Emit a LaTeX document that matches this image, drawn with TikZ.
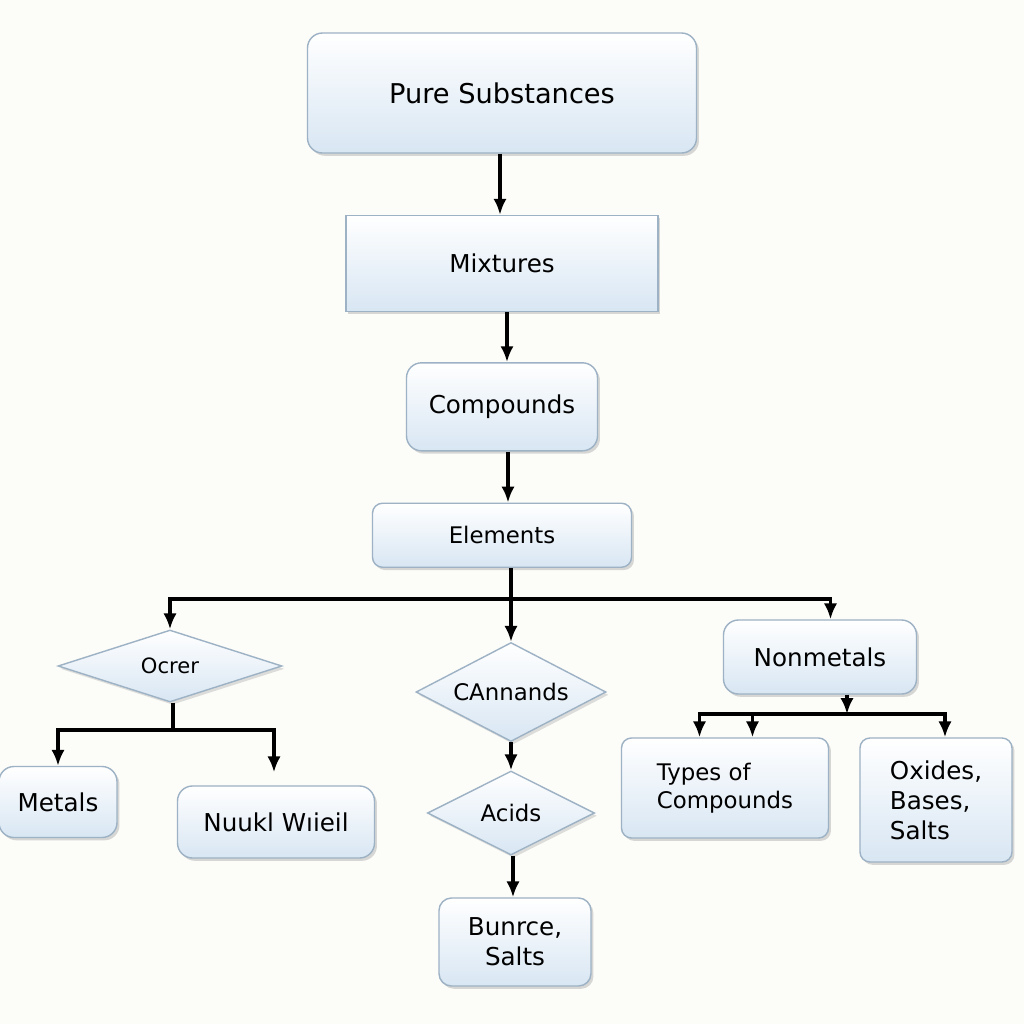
\documentclass[tikz,border=0pt]{standalone}
\usepackage{fontspec}
\setmainfont{DejaVu Sans}
\usepackage{xcolor}
\usepackage{tikz}
\usetikzlibrary{arrows.meta,positioning,shapes.geometric,shadows}

\definecolor{boxline}{HTML}{9DB2C4}
\definecolor{boxlow}{HTML}{D8E6F3}
\definecolor{paper}{HTML}{FCFCF9}

\begin{document}
\begin{tikzpicture}[
        x=0.2mm, y=-0.2mm,
        box/.style={draw=boxline, line width=0.8pt, rectangle, rounded corners=3mm, align=center, top color=white, bottom color=boxlow, inner sep=2pt, font=\fontsize{14pt}{17pt}\selectfont, drop shadow={opacity=0.3, shadow xshift=1.4pt, shadow yshift=-1.6pt}},
        plainbox/.style={box, rounded corners=0pt},
        choice/.style={draw=boxline, line width=0.8pt, diamond, aspect=2.4, inner sep=0pt, align=center, top color=white, bottom color=boxlow, font=\fontsize{13pt}{16pt}\selectfont, drop shadow={opacity=0.25, shadow xshift=1.4pt, shadow yshift=-1.6pt}},
        arrow/.style={line width=2.1pt, -{Latex[length=9pt,width=7.5pt]}},
        link/.style={line width=2.1pt}]

        \useasboundingbox[fill=paper] (0,0) rectangle (1024,1024);

        % Main column
        \node[box, minimum width=77.8mm, minimum height=24mm, font=\fontsize{15.5pt}{18pt}\selectfont] (pure) at (502,93) {Pure Substances};
        \node[plainbox, below=12.2mm of pure, minimum width=62.4mm, minimum height=19.2mm] (mix) {Mixtures};
        \node[box, below=10mm of mix, minimum width=38.2mm, minimum height=17.6mm] (comp) {Compounds};
        \node[box, below=10.2mm of comp, minimum width=51.8mm, minimum height=12.8mm, rounded corners=2mm, font=\fontsize{13pt}{16pt}\selectfont] (elem) {Elements};

        % Left branch
        \node[choice, minimum width=44.8mm, minimum height=14.4mm, font=\fontsize{12pt}{14pt}\selectfont] (ocrer) at (170,666) {Ocrer};
        \node[box, minimum width=23.6mm, minimum height=14.2mm] (metals) at (58,802) {Metals};
        \node[box, minimum width=39.4mm, minimum height=14.4mm] (nuukl) at (276,822) {Nuukl Wıieil};

        % Middle branch
        \node[choice, minimum width=38mm, minimum height=19.8mm] (cann) at (511,692) {CAnnands};
        \node[choice, minimum width=33.4mm, minimum height=16.8mm] (acids) at (511,813) {Acids};
        \node[box, minimum width=30.4mm, minimum height=17.6mm, rounded corners=2.5mm] (bunrce) at (515,942) {Bunrce,\\Salts};

        % Right branch
        \node[box, minimum width=38.6mm, minimum height=14.8mm] (nonm) at (820,657) {Nonmetals};
        \node[box, minimum width=41.4mm, minimum height=20mm, rounded corners=2mm, align=left, font=\fontsize{13pt}{16pt}\selectfont] (types) at (725,788) {Types of\\Compounds};
        \node[box, minimum width=30.4mm, minimum height=24.8mm, rounded corners=2mm, align=left] (oxides) at (936,800) {Oxides,\\Bases,\\Salts};

        \coordinate (hub) at (511,599);
        \coordinate (ohub) at (173,730);
        \coordinate (nhub) at (847,714);

        % Connections
        \draw[arrow] ([xshift=-0.4mm]pure.south) -- ([xshift=-0.4mm]mix.north);
        \draw[arrow] ([xshift=1mm]mix.south) -- ([xshift=1mm]comp.north);
        \draw[arrow] ([xshift=1.2mm]comp.south) -- ([xshift=1.2mm]elem.north);

        \draw[arrow] (elem.south -| cann) -- (cann.north);
        \draw[arrow] (hub) -| (ocrer.north);
        \draw[arrow] (hub) -| ([xshift=2.1mm]nonm.north);

        \draw[link] (ocrer.south -| ohub) -- (ohub);
        \draw[arrow] (ohub) -| (metals.north);
        \draw[arrow, shorten >=2.6mm] (ohub) -| ([xshift=-0.4mm]nuukl.north);

        \draw[arrow] (cann) -- (acids);
        \draw[arrow] ([xshift=0.4mm]acids.south) -- ([xshift=0.4mm]acids.south |- bunrce.north);

        \draw[arrow] (nonm.south -| nhub) -- (nhub);
        \draw[arrow] (nhub) -| ([xshift=-5.1mm]types.north);
        \draw[arrow] (nhub) -| ([xshift=5.5mm]types.north);
        \draw[arrow] (nhub) -| ([xshift=1.8mm]oxides.north);

    \end{tikzpicture}
\end{document}
